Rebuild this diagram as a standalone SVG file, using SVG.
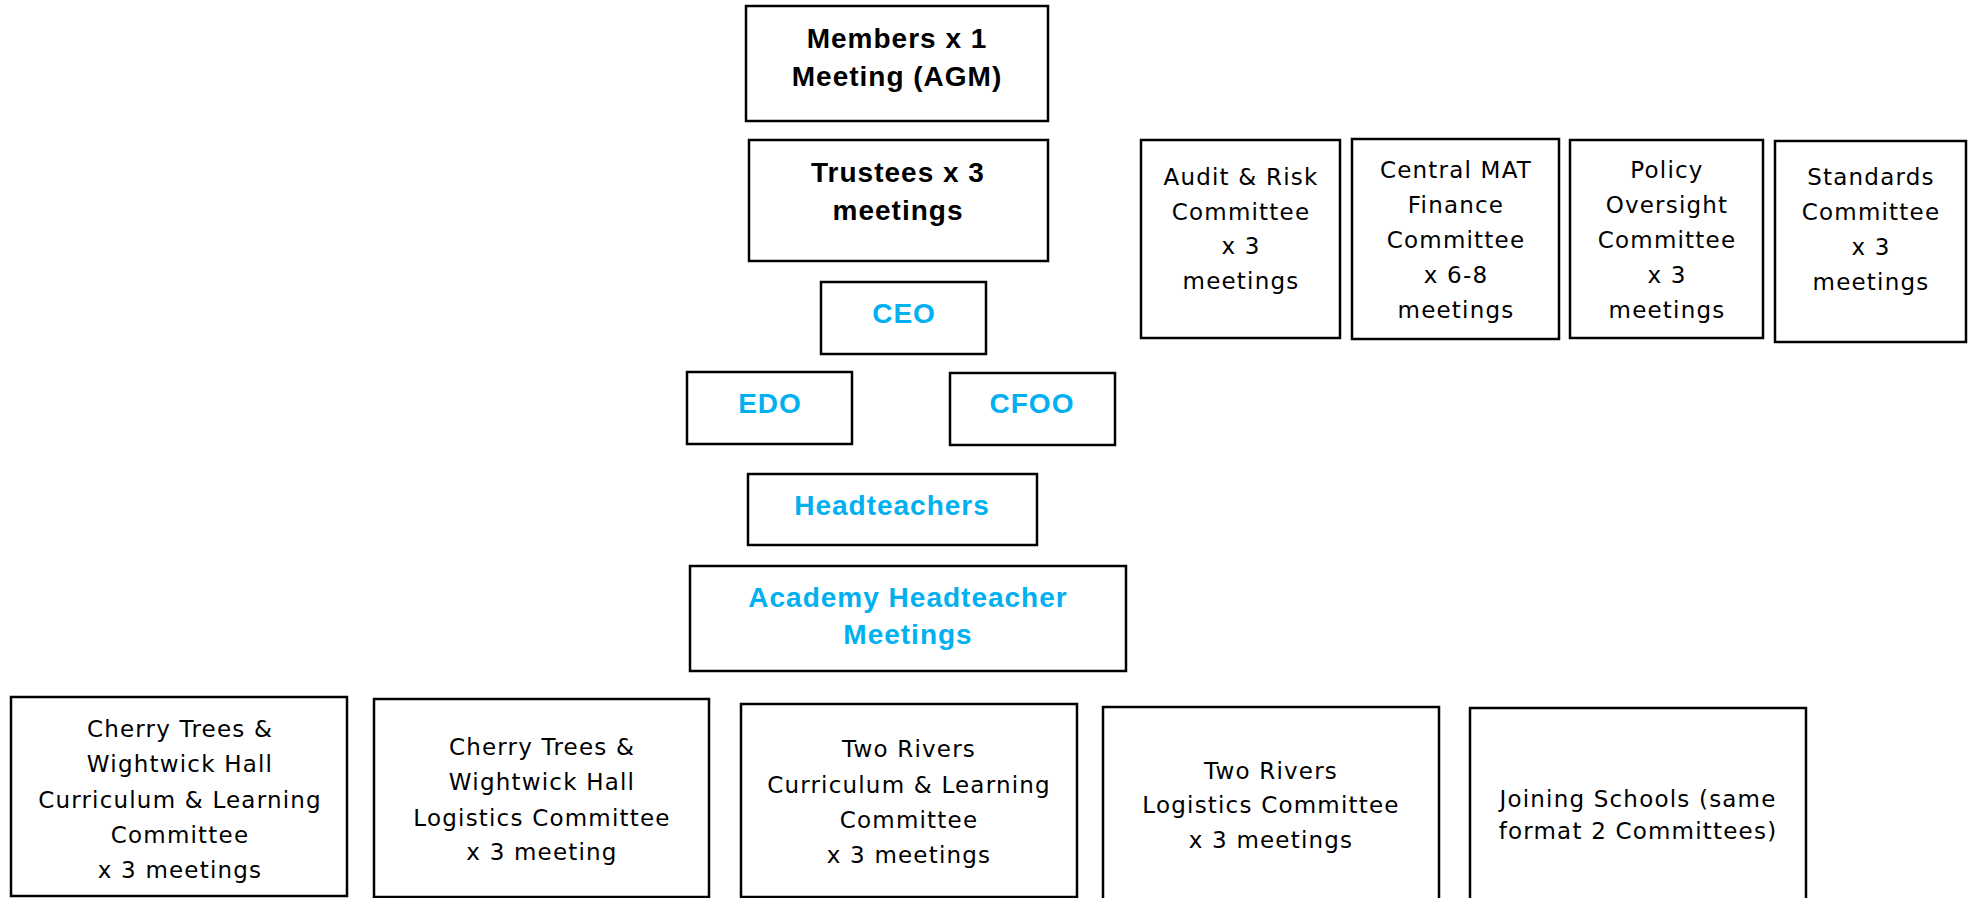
<svg xmlns="http://www.w3.org/2000/svg" width="1971" height="898" viewBox="0 0 1971 898">
<style>
.box{fill:#fff;stroke:#000;stroke-width:2.5}
.b{font-family:"Liberation Sans",Arial,sans-serif;font-weight:bold;font-size:28px;letter-spacing:1px;text-anchor:middle;fill:#000}
.bl{fill:#00B0F0}
.r{font-family:"DejaVu Sans","Liberation Sans",sans-serif;font-size:23px;letter-spacing:1.2px;text-anchor:middle;fill:#000}
</style>
<rect width="1971" height="898" fill="#fff"/>
<g id="connectors"></g>
<g id="members"><rect class="box" x="746" y="6" width="302" height="115"/>
<text class="b" x="897" y="48">Members x 1</text><text class="b" x="897" y="86">Meeting (AGM)</text></g>
<g id="trustees"><rect class="box" x="749" y="140" width="299" height="121"/>
<text class="b" x="898" y="182">Trustees x 3</text><text class="b" x="898" y="220">meetings</text></g>
<g id="ceo"><rect class="box" x="821" y="282" width="165" height="72"/>
<text class="b bl" x="904" y="323">CEO</text></g>
<g id="edo"><rect class="box" x="687" y="372" width="165" height="72"/>
<text class="b bl" x="770" y="413">EDO</text></g>
<g id="cfoo"><rect class="box" x="950" y="373" width="165" height="72"/>
<text class="b bl" x="1032" y="413">CFOO</text></g>
<g id="headteachers"><rect class="box" x="748" y="474" width="289" height="71"/>
<text class="b bl" x="892" y="515">Headteachers</text></g>
<g id="academy"><rect class="box" x="690" y="566" width="436" height="105"/>
<text class="b bl" x="908" y="607">Academy Headteacher</text><text class="b bl" x="908" y="644">Meetings</text></g>
<g id="audit"><rect class="box" x="1141" y="140" width="199" height="198"/>
<text class="r" x="1241" y="185">Audit &amp; Risk</text><text class="r" x="1241" y="220">Committee</text><text class="r" x="1241" y="254">x 3</text><text class="r" x="1241" y="289">meetings</text></g>
<g id="finance"><rect class="box" x="1352" y="139" width="207" height="200"/>
<text class="r" x="1456" y="178">Central MAT</text><text class="r" x="1456" y="213">Finance</text><text class="r" x="1456" y="248">Committee</text><text class="r" x="1456" y="283">x 6-8</text><text class="r" x="1456" y="318">meetings</text></g>
<g id="policy"><rect class="box" x="1570" y="140" width="193" height="198"/>
<text class="r" x="1667" y="178">Policy</text><text class="r" x="1667" y="213">Oversight</text><text class="r" x="1667" y="248">Committee</text><text class="r" x="1667" y="283">x 3</text><text class="r" x="1667" y="318">meetings</text></g>
<g id="standards"><rect class="box" x="1775" y="141" width="191" height="201"/>
<text class="r" x="1871" y="185">Standards</text><text class="r" x="1871" y="220">Committee</text><text class="r" x="1871" y="255">x 3</text><text class="r" x="1871" y="290">meetings</text></g>
<g id="ct-curriculum"><rect class="box" x="11" y="697" width="336" height="199"/>
<text class="r" x="180" y="737">Cherry Trees &amp;</text><text class="r" x="180" y="772">Wightwick Hall</text><text class="r" x="180" y="808">Curriculum &amp; Learning</text><text class="r" x="180" y="843">Committee</text><text class="r" x="180" y="878">x 3 meetings</text></g>
<g id="ct-logistics"><rect class="box" x="374" y="699" width="335" height="198"/>
<text class="r" x="542" y="755">Cherry Trees &amp;</text><text class="r" x="542" y="790">Wightwick Hall</text><text class="r" x="542" y="826">Logistics Committee</text><text class="r" x="542" y="860">x 3 meeting</text></g>
<g id="tr-curriculum"><rect class="box" x="741" y="704" width="336" height="193"/>
<text class="r" x="909" y="757">Two Rivers</text><text class="r" x="909" y="793">Curriculum &amp; Learning</text><text class="r" x="909" y="828">Committee</text><text class="r" x="909" y="863">x 3 meetings</text></g>
<g id="tr-logistics"><rect class="box" x="1103" y="707" width="336" height="210"/>
<text class="r" x="1271" y="779">Two Rivers</text><text class="r" x="1271" y="813">Logistics Committee</text><text class="r" x="1271" y="848">x 3 meetings</text></g>
<g id="joining"><rect class="box" x="1470" y="708" width="336" height="210"/>
<text class="r" x="1638" y="807">Joining Schools (same</text><text class="r" x="1638" y="839">format 2 Committees)</text></g>
</svg>
